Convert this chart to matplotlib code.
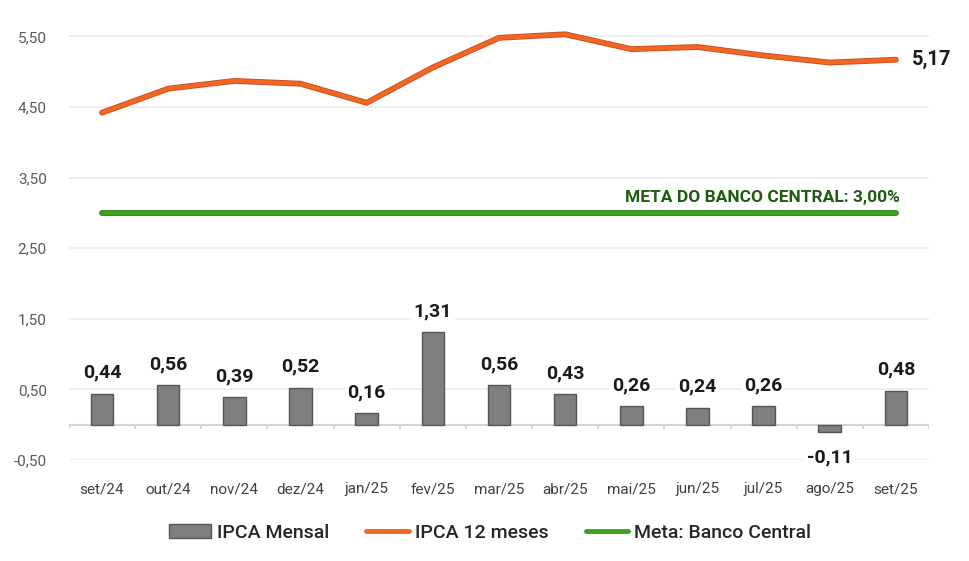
import matplotlib.pyplot as plt
import matplotlib.patheffects as pe
from matplotlib.patches import Patch
from matplotlib.lines import Line2D
import numpy as np

meses = ['set/24', 'out/24', 'nov/24', 'dez/24', 'jan/25', 'fev/25', 'mar/25',
         'abr/25', 'mai/25', 'jun/25', 'jul/25', 'ago/25', 'set/25']
ipca_mensal = [0.44, 0.56, 0.39, 0.52, 0.16, 1.31, 0.56, 0.43, 0.26, 0.24, 0.26, -0.11, 0.48]
ipca_12m = [4.42, 4.76, 4.87, 4.83, 4.56, 5.06, 5.48, 5.53, 5.32, 5.35, 5.23, 5.13, 5.17]
meta = 3.00
yticks = [-0.5, 0.5, 1.5, 2.5, 3.5, 4.5, 5.5]

plt.rcParams['font.family'] = ['Roboto', 'DejaVu Sans']

def br(v):
    return f'{v:.2f}'.replace('.', ',')

fig = plt.figure(figsize=(9.7, 5.61), dpi=100)
ax = fig.add_axes([0.0711, 0.18, 0.8866, 0.818])
x = np.arange(len(meses))

ax.set_ylim(-0.5, 6.0)
ax.set_xlim(-0.5, len(meses) - 0.5)
ax.set_yticks(yticks)
ax.set_yticklabels([br(v) for v in yticks], color='#595959', fontsize=11)
ax.grid(axis='y', color='#ececec', linewidth=1.2, zorder=0)
ax.set_axisbelow(True)
for s in ax.spines.values():
    s.set_visible(False)
ax.tick_params(axis='y', length=0, pad=16)
ax.set_xticks(x)
ax.set_xticklabels(meses, color='#404040', fontsize=11)
ax.tick_params(axis='x', length=0, pad=16)

# linha do zero com marcas entre categorias
ax.axhline(0, color='#d4d4d4', linewidth=1.5, zorder=1)
ax.vlines(np.arange(-0.5, len(meses)), -0.06, 0, color='#d4d4d4', linewidth=1.5, zorder=1)

ax.bar(x, ipca_mensal, width=0.34, color='#7f7f7f', edgecolor='#555555', linewidth=1, zorder=3)
for xi, v in zip(x, ipca_mensal):
    yl = v + 0.30 if v >= 0 else v - 0.35
    ax.text(xi, yl, br(v), ha='center', va='center', fontsize=14, fontweight='bold',
            color='#1a1a1a', zorder=4,
            bbox=dict(facecolor='white', edgecolor='none', pad=2))

ax.plot(x, ipca_12m, color='#f26522', linewidth=3, solid_capstyle='round', zorder=5,
        path_effects=[pe.Stroke(linewidth=4.2, foreground='#c4501c'), pe.Normal()])
ax.text(x[-1] + 0.25, ipca_12m[-1], br(ipca_12m[-1]), ha='left', va='center', fontsize=14.5,
        fontweight='bold', color='#1a1a1a')

ax.plot([x[0], x[-1]], [meta, meta], color='#3ea01f', linewidth=3, solid_capstyle='round', zorder=5,
        path_effects=[pe.Stroke(linewidth=4.2, foreground='#2c7a18'), pe.Normal()])
ax.text(x[-1] + 0.06, meta + 0.22, 'META DO BANCO CENTRAL: ' + br(meta) + '%', ha='right', va='center',
        fontsize=12.5, fontweight='bold', color='#1e5c12')

handles = [Patch(facecolor='#7f7f7f', edgecolor='#555555', label='IPCA Mensal'),
           Line2D([0], [0], color='#f26522', linewidth=3.5, solid_capstyle='round', label='IPCA 12 meses'),
           Line2D([0], [0], color='#3ea01f', linewidth=3.5, solid_capstyle='round', label='Meta: Banco Central')]
leg = fig.legend(handles=handles, loc='center', bbox_to_anchor=(0.505, 0.05), ncol=3, frameon=False,
                 fontsize=14, handlelength=2.2, handletextpad=0.3, columnspacing=1.9)
for t in leg.get_texts():
    t.set_color('#262626')
    t.set_fontweight('medium')

fig.savefig('out.png', dpi=100)
